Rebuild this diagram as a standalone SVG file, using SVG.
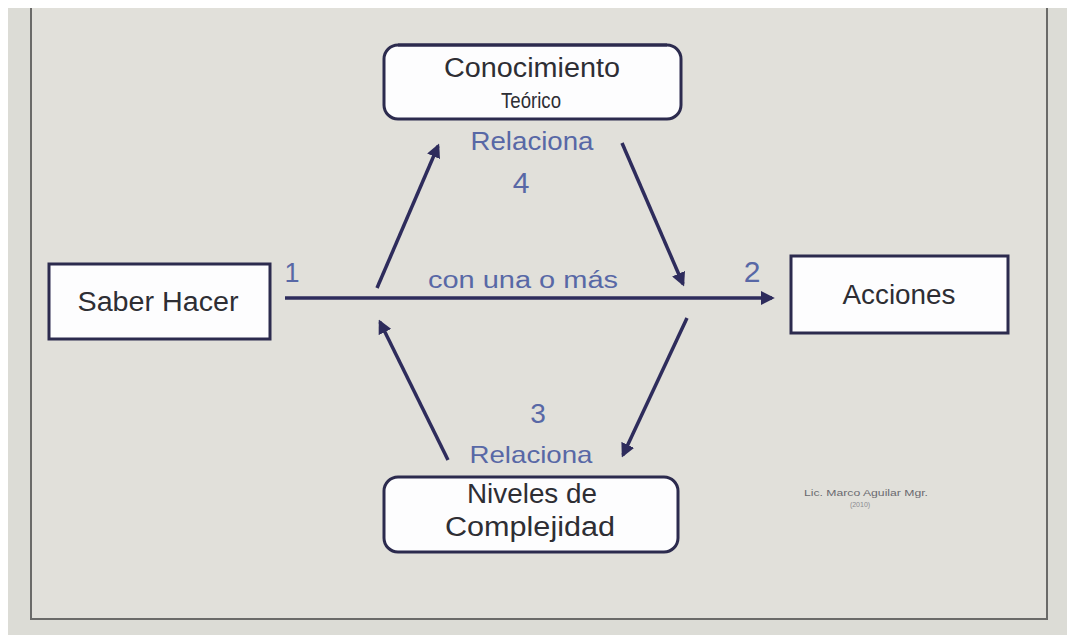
<svg xmlns="http://www.w3.org/2000/svg" width="1067" height="635" viewBox="0 0 1067 635">
<style>
.box{fill:#fdfdfe;stroke:#2c2b4e;stroke-width:3}
.t{font-family:"Liberation Sans",Arial,sans-serif;fill:#2e2e34;text-anchor:middle}
.b{font-family:"Liberation Sans",Arial,sans-serif;fill:#5868a6;text-anchor:middle}
.c{stroke:#2e2c5c;stroke-width:3.5;fill:none;marker-end:url(#ah)}
</style>
<defs>
<marker id="ah" viewBox="0 0 10 10" refX="8" refY="5" markerWidth="4" markerHeight="4" orient="auto" markerUnits="strokeWidth">
<path d="M0,0 L10,5 L0,10 z" fill="#2e2c5c"/>
</marker>
</defs>
<rect x="0" y="0" width="1067" height="635" fill="#ffffff"/>
<rect x="8" y="8" width="1059" height="627" fill="#dcdcd6"/>
<rect x="31" y="8" width="1016" height="611" fill="#e1e0da"/>
<path d="M31,8 V619 H1047 V8" fill="none" stroke="#6a6a68" stroke-width="2"/>

<g id="connectors">
<line class="c" x1="285" y1="298" x2="772" y2="298"/>
<line class="c" x1="377" y1="288" x2="438" y2="146"/>
<line class="c" x1="622" y1="143" x2="683" y2="284"/>
<line class="c" x1="687" y1="318" x2="623" y2="455"/>
<line class="c" x1="448" y1="460" x2="380" y2="322"/>
</g>

<g id="conocimiento">
<rect class="box" x="384" y="45" width="297" height="74" rx="14"/>
<path d="M398,45 H667" stroke="#2c2b4e" stroke-width="3" fill="none"/>
<text class="t" x="532" y="77" font-size="27" textLength="176" lengthAdjust="spacingAndGlyphs">Conocimiento</text>
<text class="t" x="531" y="108" font-size="22" textLength="60" lengthAdjust="spacingAndGlyphs">Teórico</text>
</g>

<g id="saber">
<rect class="box" x="49" y="264" width="221" height="75"/>
<text class="t" x="158" y="311" font-size="27" textLength="161" lengthAdjust="spacingAndGlyphs">Saber Hacer</text>
</g>

<g id="acciones">
<rect class="box" x="791" y="256" width="217" height="77"/>
<text class="t" x="899" y="304" font-size="27" textLength="113" lengthAdjust="spacingAndGlyphs">Acciones</text>
</g>

<g id="niveles">
<rect class="box" x="384" y="477" width="294" height="75" rx="14"/>
<text class="t" x="532" y="503" font-size="27" textLength="130" lengthAdjust="spacingAndGlyphs">Niveles de</text>
<text class="t" x="530" y="536" font-size="27" textLength="170" lengthAdjust="spacingAndGlyphs">Complejidad</text>
</g>

<g id="labels">
<text class="b" x="532" y="150" font-size="25" textLength="123" lengthAdjust="spacingAndGlyphs">Relaciona</text>
<text class="b" x="521" y="193" font-size="30">4</text>
<text class="b" x="292" y="282" font-size="27">1</text>
<text class="b" x="752" y="282" font-size="30">2</text>
<text class="b" x="523" y="288" font-size="23" textLength="190" lengthAdjust="spacingAndGlyphs">con una o más</text>
<text class="b" x="538" y="423" font-size="28">3</text>
<text class="b" x="531" y="463" font-size="24" textLength="123" lengthAdjust="spacingAndGlyphs">Relaciona</text>
<text x="866" y="496" font-family="Liberation Sans, Arial, sans-serif" font-size="9" fill="#6a6a70" text-anchor="middle" textLength="124" lengthAdjust="spacingAndGlyphs">Lic. Marco Aguilar Mgr.</text>
<text x="860" y="507" font-family="Liberation Sans, Arial, sans-serif" font-size="7" fill="#8a8a90" text-anchor="middle">(2010)</text>
</g>
</svg>
